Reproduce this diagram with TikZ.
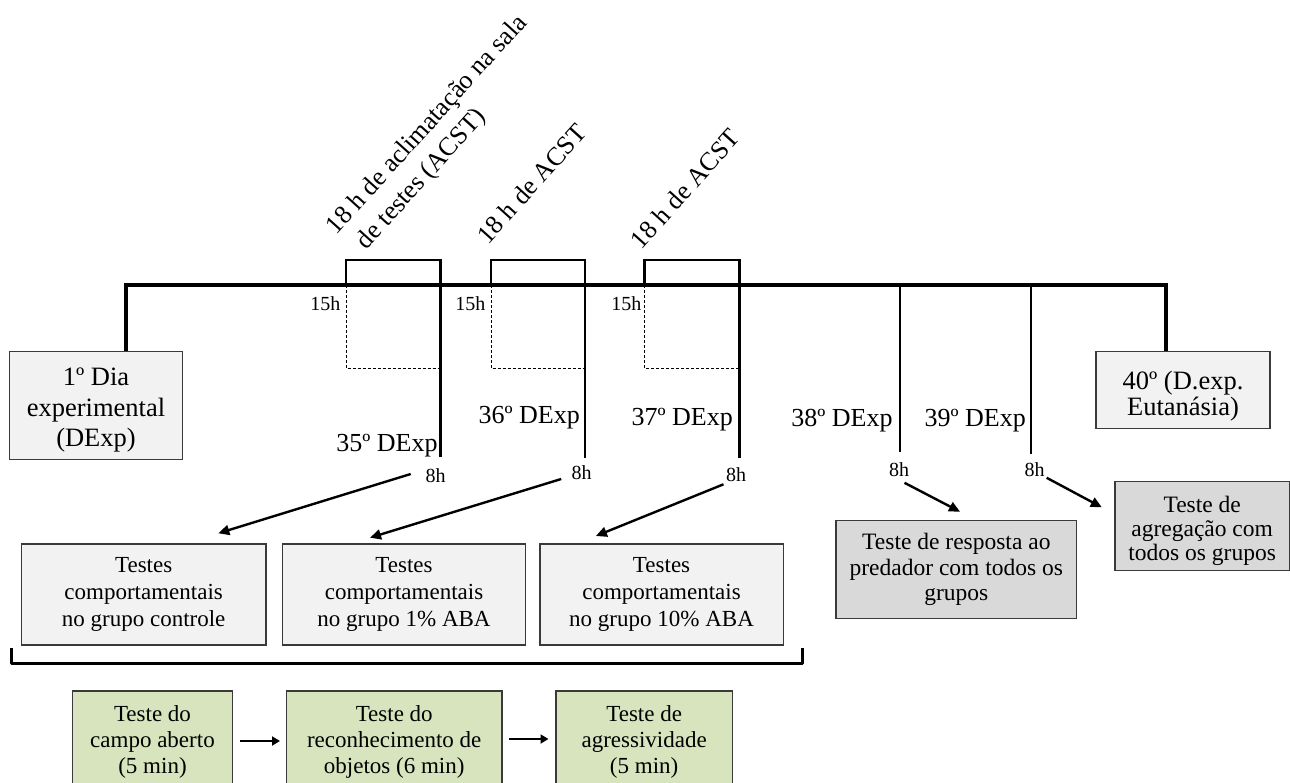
\documentclass[tikz,border=0pt]{standalone}
\usepackage{fontspec}
\setmainfont{Liberation Serif}
\usetikzlibrary{arrows.meta}
\definecolor{boxgray}{HTML}{F2F2F2}
\definecolor{darkbox}{HTML}{D9D9D9}
\definecolor{greenbox}{HTML}{D7E4BD}
\definecolor{edgecol}{HTML}{3A3A3A}
\begin{document}
\begin{tikzpicture}[x=1pt,y=-1pt,
  box/.style={draw=edgecol, line width=1.4pt, fill=boxgray, align=center, inner sep=0pt},
  bigfont/.style={font=\fontsize{26.5}{30.8}\selectfont},
  midfont/.style={font=\fontsize{23}{26.7}\selectfont},
  timeline/.style={line width=4pt},
  bracketline/.style={line width=2.8pt},
  dashline/.style={line width=0.9pt, dash pattern=on 3pt off 2pt},
  arrowline/.style={line width=2.4pt, -{Triangle[length=11pt,width=10pt]}},
  greenarrow/.style={line width=2.4pt, -{Triangle[length=8pt,width=9pt]}},
  rotlabel/.style={font=\fontsize{26}{32}\selectfont, rotate=48, anchor=base west, inner sep=0pt},
  daylabel/.style={font=\fontsize{26}{30}\selectfont, anchor=base east, inner sep=0pt},
  hourlabel/.style={font=\fontsize{20}{24}\selectfont, inner sep=0pt}
]
\useasboundingbox (0,0) rectangle (1290,783);
\begin{scope}
\clip (0,0) rectangle (1290,783);

% ---- boxes ----
\node[box, bigfont, minimum width=173pt, minimum height=107.6pt] (b1) at (96,405.5)
  {\rule{0pt}{27pt}1º Dia\\experimental\\(DExp)};
\node[box, font=\fontsize{26.5}{26}\selectfont, minimum width=174pt, minimum height=76.6pt] (b40) at (1183,390)
  {\rule{0pt}{30pt}40º (D.exp.\\Eutanásia)};

\node[box, midfont, minimum width=244.3pt, minimum height=101pt] (bA) at (143.65,594.5)
  {Testes\\comportamentais\\no grupo controle};
\node[box, midfont, minimum width=243pt, minimum height=101pt] (bB) at (404,594.5)
  {Testes\\comportamentais\\no grupo 1\% ABA};
\node[box, midfont, minimum width=243.5pt, minimum height=101pt] (bC) at (661.55,594.5)
  {Testes\\comportamentais\\no grupo 10\% ABA};

\node[box, fill=darkbox, font=\fontsize{23.5}{25.8}\selectfont, minimum width=240.7pt, minimum height=97.6pt] (bR) at (956.35,569.5)
  {Teste de resposta ao\\predador com todos os\\grupos};
\node[box, fill=darkbox, font=\fontsize{23.5}{24}\selectfont, minimum width=174.3pt, minimum height=89pt] (bG) at (1202.15,526.2)
  {\rule{0pt}{26pt}Teste de\\agregação com\\todos os grupos};

\node[box, fill=greenbox, font=\fontsize{23}{26}\selectfont, minimum width=159.6pt, minimum height=102pt] (g1) at (152.5,742)
  {Teste do\\campo aberto\\(5 min)};
\node[box, fill=greenbox, font=\fontsize{23}{26}\selectfont, minimum width=215.5pt, minimum height=102pt] (g2) at (394.25,742)
  {Teste do\\reconhecimento de\\objetos (6 min)};
\node[box, fill=greenbox, font=\fontsize{23}{26}\selectfont, minimum width=176.3pt, minimum height=102pt] (g3) at (644.15,742)
  {Teste de\\agressividade\\(5 min)};

% ---- key coordinates ----
\coordinate (t0) at (125.5,285);
\coordinate (t1) at (1166,285);

% ---- dashed boxes ----
\draw[dashline] (346,285) -- (346,368.5) -- (440.5,368.5);
\draw[dashline] (491,285) -- (491,368.5) -- (585,368.5);
\draw[dashline] (644.5,285) -- (644.5,368.5) -- (739.5,368.5);

% ---- brackets with day lines ----
\draw[bracketline, line join=miter] (346,285) -- (346,260) -- (440.5,260) -- (440.5,457);
\draw[bracketline, line join=miter] (491,285) -- (491,260) -- (585,260) -- (585,457.7);
\draw[bracketline, line join=miter] (644.5,285) -- (644.5,260) -- (739.5,260) -- (739.5,457.7);
\draw[bracketline] (900,285) -- (900,451.7);
\draw[bracketline] (1031,285) -- (1031,453.5);

% ---- main timeline ----
\draw[timeline] (b1.north -| t0) -- (t0) -- (t1) -- (b40.north -| t1);

% ---- rotated labels ----
\node[font=\fontsize{26}{32}\selectfont, rotate=48, anchor=north west, align=left, inner sep=0pt] (r1) at (323.2,223.6)
  {18 h de aclimatação na sala\\\hspace*{9pt}de testes (ACST)};
\node[rotlabel] (r2) at (488.1,245.4) {18 h de ACST};
\node[rotlabel] (r3) at (641.4,250.4) {18 h de ACST};

% ---- 15h labels ----
\node[hourlabel, anchor=base east] (h1) at (340.5,310.7) {15h};
\node[hourlabel, anchor=base east] (h2) at (485.5,310.7) {15h};
\node[hourlabel, anchor=base east] (h3) at (641.5,310.7) {15h};

% ---- day labels ----
\node[daylabel] (d35) at (437.8,451.7) {35º DExp};
\node[daylabel] (d36) at (580,423.3) {36º DExp};
\node[daylabel] (d37) at (733,425) {37º DExp};
\node[daylabel] (d38) at (892.7,426.7) {38º DExp};
\node[daylabel] (d39) at (1026,426.7) {39º DExp};

% ---- 8h labels ----
\node[hourlabel, anchor=base] (e35) at (435.5,482.3) {8h};
\node[hourlabel, anchor=base] (e36) at (581.6,479) {8h};
\node[hourlabel, anchor=base] (e37) at (736,481) {8h};
\node[hourlabel, anchor=base] (e38) at (899.2,476.7) {8h};
\node[hourlabel, anchor=base] (e39) at (1034.5,476.7) {8h};

% ---- arrows ----
\coordinate (s35) at (410.7,474);   \coordinate (p35) at (218.3,533.3);
\coordinate (s36) at (561.2,479);   \coordinate (p36) at (370,537.7);
\coordinate (s37) at (723.5,484.3); \coordinate (p37) at (595.9,536);
\coordinate (s38) at (904.5,482.8); \coordinate (p38) at (960,511.7);
\coordinate (s39) at (1046.7,477.8); \coordinate (p39) at (1101.8,507.3);
\draw[arrowline] (s35) -- (p35);
\draw[arrowline] (s36) -- (p36);
\draw[arrowline] (s37) -- (p37);
\draw[arrowline] (s38) -- (p38);
\draw[arrowline] (s39) -- (p39);

% ---- bracket under test boxes ----
\draw[bracketline, line join=round] (11.7,648) -- (11.7,663.3) -- (802.7,663.3) -- (802.7,648);

% ---- arrows between green boxes ----
\coordinate (ga1) at (240,741);   \coordinate (gb1) at (280,741);
\coordinate (ga2) at (509,739);   \coordinate (gb2) at (548.5,739);
\draw[greenarrow] (ga1) -- (gb1);
\draw[greenarrow] (ga2) -- (gb2);
\end{scope}
\end{tikzpicture}
\end{document}
